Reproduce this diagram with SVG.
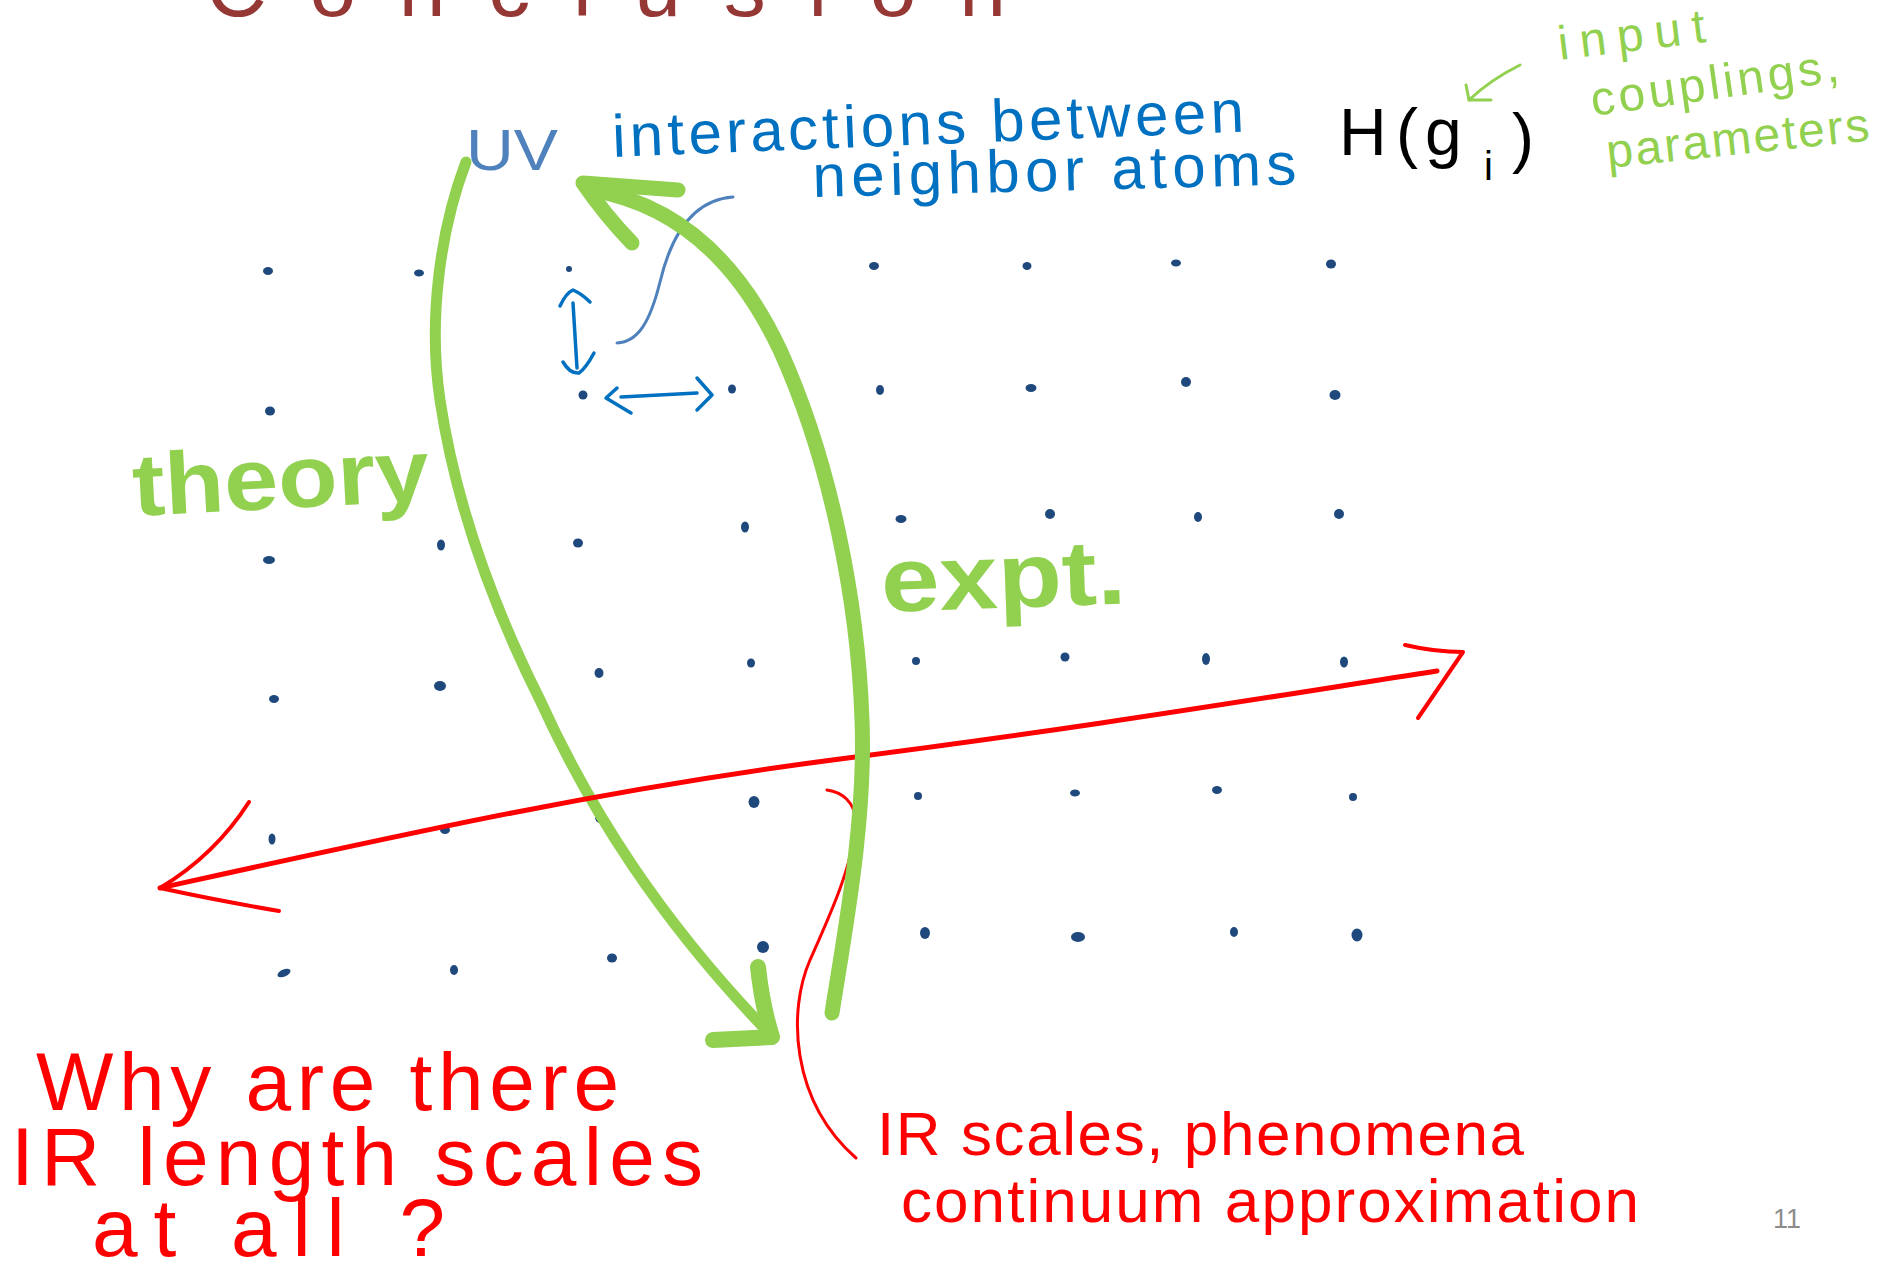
<svg xmlns="http://www.w3.org/2000/svg" width="1904" height="1277" viewBox="0 0 1904 1277">
<style>
.dot{fill:#1f497d}
.grn{fill:none;stroke:#92d050;stroke-linecap:round;stroke-linejoin:round}
.red{fill:none;stroke:#ff0000;stroke-linecap:round;stroke-linejoin:round}
.blu{fill:none;stroke:#0070c0;stroke-width:3.5;stroke-linecap:round;stroke-linejoin:round}
.t{font-family:"Liberation Sans",Arial,sans-serif}
.tred{fill:#ff0000}
.tgrn{fill:#92d050}
.tblu{fill:#0070c0}
</style>
<rect width="1904" height="1277" fill="#ffffff"/>

<g id="title">
<text class="t" x="206" y="16" font-size="84" fill="#953735" textLength="800">Conclusion</text>
</g>

<g id="lattice">
<ellipse class="dot" cx="268" cy="271" rx="5" ry="4"/><ellipse class="dot" cx="419" cy="273" rx="5" ry="3.5"/><ellipse class="dot" cx="569" cy="269" rx="3" ry="3"/><ellipse class="dot" cx="728" cy="263" rx="3" ry="3"/><ellipse class="dot" cx="874" cy="266" rx="5" ry="4"/><ellipse class="dot" cx="1027" cy="266" rx="4.5" ry="4"/><ellipse class="dot" cx="1176" cy="263" rx="5" ry="3.5"/><ellipse class="dot" cx="1331" cy="264" rx="5" ry="4.5"/>
<ellipse class="dot" cx="270" cy="411" rx="5" ry="4.5"/><ellipse class="dot" cx="440" cy="407" rx="4" ry="5"/><ellipse class="dot" cx="583" cy="395" rx="4.5" ry="4.5"/><ellipse class="dot" cx="732" cy="389" rx="4" ry="4.5"/><ellipse class="dot" cx="880" cy="390" rx="4" ry="5"/><ellipse class="dot" cx="1031" cy="388" rx="5.5" ry="4"/><ellipse class="dot" cx="1186" cy="382" rx="5" ry="5"/><ellipse class="dot" cx="1335" cy="395" rx="5.5" ry="5"/>
<ellipse class="dot" cx="269" cy="560" rx="6" ry="4"/><ellipse class="dot" cx="441" cy="545" rx="4" ry="5.5"/><ellipse class="dot" cx="578" cy="543" rx="5" ry="4.5"/><ellipse class="dot" cx="745" cy="527" rx="4" ry="5.5"/><ellipse class="dot" cx="901" cy="519" rx="5.5" ry="4"/><ellipse class="dot" cx="1050" cy="514" rx="5" ry="5"/><ellipse class="dot" cx="1198" cy="517" rx="4" ry="5"/><ellipse class="dot" cx="1339" cy="514" rx="5" ry="5"/>
<ellipse class="dot" cx="274" cy="699" rx="5" ry="4"/><ellipse class="dot" cx="440" cy="686" rx="6" ry="5"/><ellipse class="dot" cx="599" cy="673" rx="4.5" ry="5"/><ellipse class="dot" cx="751" cy="663" rx="4" ry="4.5"/><ellipse class="dot" cx="916" cy="661" rx="4" ry="4"/><ellipse class="dot" cx="1065" cy="657" rx="4.5" ry="4.5"/><ellipse class="dot" cx="1206" cy="659" rx="4" ry="6"/><ellipse class="dot" cx="1344" cy="662" rx="4" ry="5.5"/>
<ellipse class="dot" cx="272" cy="839" rx="3.5" ry="5.5"/><ellipse class="dot" cx="445" cy="830" rx="5" ry="4"/><ellipse class="dot" cx="600" cy="817" rx="5" ry="6"/><ellipse class="dot" cx="754" cy="802" rx="5.5" ry="6"/><ellipse class="dot" cx="918" cy="796" rx="4" ry="4"/><ellipse class="dot" cx="1075" cy="793" rx="5" ry="3.5"/><ellipse class="dot" cx="1217" cy="790" rx="5" ry="4"/><ellipse class="dot" cx="1353" cy="797" rx="4" ry="4"/>
<ellipse class="dot" cx="284" cy="973" rx="7" ry="3.5" transform="rotate(-25 284 973)"/><ellipse class="dot" cx="454" cy="970" rx="4" ry="5"/><ellipse class="dot" cx="612" cy="958" rx="5" ry="4.5"/><ellipse class="dot" cx="763" cy="947" rx="6" ry="6"/><ellipse class="dot" cx="925" cy="933" rx="5" ry="6"/><ellipse class="dot" cx="1078" cy="937" rx="7" ry="5"/><ellipse class="dot" cx="1234" cy="932" rx="4" ry="5"/><ellipse class="dot" cx="1357" cy="935" rx="5.5" ry="6.5"/>
</g>

<g id="labels">
<text id="uv" class="t" x="466" y="170" font-size="58" fill="#4f81bd" textLength="92" lengthAdjust="spacingAndGlyphs">UV</text>
<text id="interactions" class="t tblu" x="613" y="157" font-size="60" textLength="632" transform="rotate(-2.3 613 157)">interactions between</text>
<text id="neighbor" class="t tblu" x="813" y="197" font-size="60" textLength="484" transform="rotate(-1.5 813 197)">neighbor atoms</text>
<text id="hamiltonian" class="t" font-size="66" fill="#000000"><tspan x="1339" y="155">H</tspan><tspan x="1396" y="155">(</tspan><tspan x="1425" y="155">g</tspan><tspan x="1484" y="180" font-size="40">i</tspan><tspan x="1512" y="160">)</tspan></text>
<text id="input" class="t tgrn" x="1560" y="60" font-size="48" textLength="148" transform="rotate(-7 1560 60)">input</text>
<text id="couplings" class="t tgrn" x="1593" y="116" font-size="48" textLength="250" transform="rotate(-8 1593 116)">couplings,</text>
<text id="parameters" class="t tgrn" x="1608" y="168" font-size="48" textLength="264" transform="rotate(-6 1608 168)">parameters</text>
<text id="theory" class="t tgrn" x="134" y="516" font-size="88" font-weight="bold" textLength="297" lengthAdjust="spacingAndGlyphs" transform="rotate(-3 134 516)">theory</text>
<text id="expt" class="t tgrn" x="882" y="612" font-size="92" font-weight="bold" textLength="245" lengthAdjust="spacingAndGlyphs" transform="rotate(-2 882 612)">expt.</text>
<text id="why1" class="t tred" x="36" y="1110" font-size="82" textLength="583">Why are there</text>
<text id="why2" class="t tred" x="11" y="1185" font-size="82" textLength="692">IR length scales</text>
<text id="why3" class="t tred" x="92" y="1256" font-size="82" textLength="353">at all ?</text>
<text id="ir1" class="t tred" x="877" y="1155" font-size="62" textLength="647">IR scales, phenomena</text>
<text id="ir2" class="t tred" x="901" y="1222" font-size="62" textLength="738">continuum  approximation</text>
<text id="pagenum" class="t" x="1773" y="1228" font-size="27" fill="#8c8c8c">11</text>
</g>

<g id="connectors">
<path d="M733,197 C 690,200 670,240 660,282 C 650,322 638,342 617,343" fill="none" stroke="#4f81bd" stroke-width="3" stroke-linecap="round"/>
<path class="blu" d="M573,303 L577,368"/>
<path class="blu" d="M560,306 Q566,293 573,290 Q582,294 590,302"/>
<path class="blu" d="M563,362 Q570,374 579,373 Q586,368 594,353"/>
<path class="blu" d="M621,397 L697,393"/>
<path class="blu" d="M617,388 L606,398 L631,413"/>
<path class="blu" d="M697,378 L712,395 L697,410"/>
<path class="grn" stroke-width="3" d="M1520,65 Q1490,80 1469,100"/>
<path class="grn" stroke-width="3" d="M1466,85 L1469,100 L1491,100"/>
<path class="grn" stroke-width="11" d="M466,162 C 440,230 428,320 440,400 C 455,500 490,600 540,700 C 590,810 660,920 768,1032"/>
<path class="grn" stroke-width="16" d="M758,967 Q762,1005 772,1037 L713,1040"/>
<path class="red" stroke-width="3" d="M856,1158 C 790,1100 788,1010 810,960 C 830,915 853,865 856,822 C 855,802 842,792 827,790"/>
<path class="red" stroke-width="5" d="M160,888 C 400,835 600,790 840,759 S 1200,708 1437,671"/>
<path class="red" stroke-width="4" d="M249,802 Q215,855 160,888 Q215,900 279,911"/>
<path class="red" stroke-width="4" d="M1405,645 Q1435,652 1463,652 L1418,718"/>
<path class="grn" stroke-width="15" d="M832,1013 C 845,930 866,820 862,720 C 858,600 830,460 780,350 C 740,265 680,205 592,190"/>
<path class="grn" stroke-width="15" d="M678,190 L583,183 Q605,215 632,243"/>
</g>
</svg>
